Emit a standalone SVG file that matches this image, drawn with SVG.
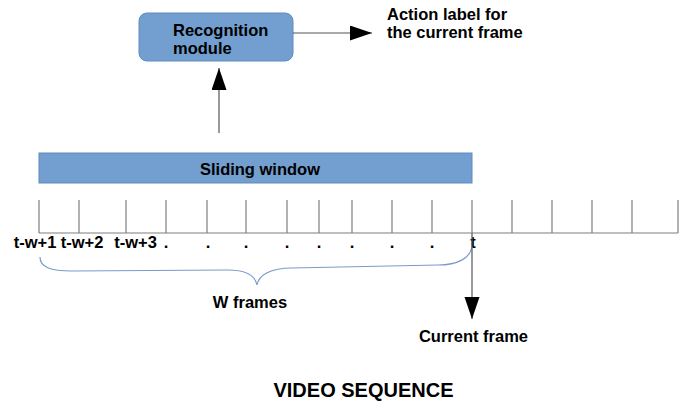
<svg xmlns="http://www.w3.org/2000/svg" width="697" height="409" viewBox="0 0 697 409">
<style>
  text { font-family: "Liberation Sans", Arial, sans-serif; font-weight: bold; font-size: 16.5px; fill: #000; }
  .box { fill: #729fcf; stroke: #5f8bc0; stroke-width: 1; }
  .tick { stroke: #7f7f7f; stroke-width: 1.2; fill: none; }
  .conn { stroke: #555; stroke-width: 1.2; fill: none; }
  .brace { stroke: #7a9bc9; stroke-width: 1.2; fill: none; }
</style>
<defs>
  <marker id="arr" markerUnits="userSpaceOnUse" markerWidth="23" markerHeight="16" refX="22" refY="7.5" orient="auto">
    <path d="M0,0 L22,7.5 L0,15 z" fill="#000"/>
  </marker>
</defs>
<rect width="697" height="409" fill="#fff"/>

<g id="recognition-module">
  <rect class="box" x="139" y="13" width="154" height="48" rx="8" ry="8"/>
  <text x="173" y="36">Recognition</text>
  <text x="173" y="54">module</text>
</g>

<g id="action-label">
  <text x="387" y="20">Action label for</text>
  <text x="387" y="38">the current frame</text>
</g>

<g id="sliding-window">
  <rect class="box" x="39" y="153" width="433" height="30"/>
  <text x="260" y="175" text-anchor="middle">Sliding window</text>
</g>

<g id="timeline">
  <path class="tick" d="M39,233 H678 M39,200 V233 M79,200 V233 M126,200 V233 M166,200 V233 M207,200 V233 M246,200 V233 M287,200 V233 M319,200 V233 M352,200 V233 M392,200 V233 M432,200 V233 M472,200 V233 M512,200 V233 M552,200 V233 M592,200 V233 M632,200 V233 M678,200 V233"/>
  <text x="35" y="248" text-anchor="middle">t-w+1</text>
  <text x="82" y="248" text-anchor="middle">t-w+2</text>
  <text x="135.5" y="248" text-anchor="middle">t-w+3</text>
  <text x="166" y="248" text-anchor="middle">.</text>
  <text x="208" y="248" text-anchor="middle">.</text>
  <text x="246" y="248" text-anchor="middle">.</text>
  <text x="287" y="248" text-anchor="middle">.</text>
  <text x="319" y="248" text-anchor="middle">.</text>
  <text x="352" y="248" text-anchor="middle">.</text>
  <text x="392" y="248" text-anchor="middle">.</text>
  <text x="432" y="248" text-anchor="middle">.</text>
  <text x="473" y="248" text-anchor="middle">t</text>
</g>

<g id="w-frames">
  <path class="brace" d="M40,257 C40,267 50,271 72,271 L228,270 C245,270 255,275 257,285 C259,275 270,268 292,268 L438,265 C458,265 470,258 472,247"/>
  <text x="250" y="308" text-anchor="middle">W frames</text>
</g>

<g id="current-frame">
  <text x="473.5" y="342" text-anchor="middle">Current frame</text>
</g>

<g id="title">
  <text x="363.5" y="397" text-anchor="middle" style="font-size:20px">VIDEO SEQUENCE</text>
</g>

<g id="connectors">
  <line class="conn" x1="293" y1="33" x2="372" y2="33" marker-end="url(#arr)"/>
  <line class="conn" x1="219" y1="133" x2="219" y2="68" marker-end="url(#arr)"/>
  <line class="conn" x1="472" y1="233" x2="472" y2="319" marker-end="url(#arr)"/>
</g>
</svg>
